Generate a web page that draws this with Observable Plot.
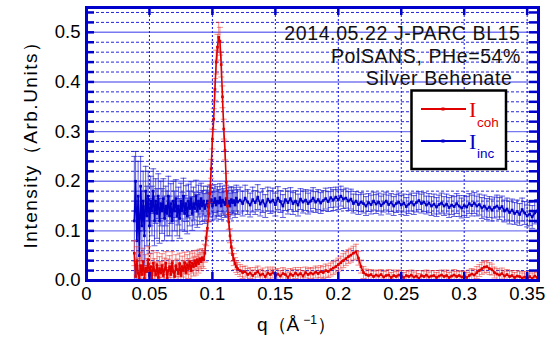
<!DOCTYPE html>
<html><head><meta charset="utf-8">
<script src="https://cdn.jsdelivr.net/npm/d3@7"></script>
<script src="https://cdn.jsdelivr.net/npm/@observablehq/plot@0.6"></script>
<style>body{margin:0;background:#fff;} #chart{width:560px;height:340px;}</style>
</head><body><div id="chart"></div>
<script>
// ---- data (q in 1/Å) ----
const qLow = [0.038,0.039,0.040,0.041,0.042,0.043,0.044,0.045,0.046,0.047,0.048,0.049,0.050,0.051,0.052,0.053,0.054,0.055,0.056,0.057,0.058,0.059,0.060,0.061,0.062,0.063,0.064,0.065,0.066,0.067,0.068,0.069,0.070,0.071,0.072,0.073,0.074,0.075,0.076,0.077,0.078,0.079,0.080,0.081,0.082,0.083,0.084,0.085,0.086,0.087,0.088,0.089,0.090,0.091,0.092,0.093,0.094];
const qPeak = [0.095,0.096,0.097,0.098,0.099,0.100,0.101,0.102,0.103,0.104,0.105,0.106,0.107,0.108,0.109,0.110,0.111,0.112,0.113,0.114,0.115,0.116,0.117,0.118,0.119,0.120];
const qHigh = [0.122,0.124,0.126,0.128,0.130,0.132,0.134,0.136,0.138,0.140,
0.142,0.144,0.146,0.148,0.150,0.152,0.154,0.156,0.158,0.160,
0.162,0.164,0.166,0.168,0.170,0.172,0.174,0.176,0.178,0.180,
0.182,0.184,0.186,0.188,0.190,0.192,0.194,0.196,0.198,0.200,
0.202,0.204,0.206,0.208,0.210,0.212,0.214,0.216,0.218,0.220,
0.222,0.224,0.226,0.228,0.230,0.232,0.234,0.236,0.238,0.240,
0.242,0.244,0.246,0.248,0.250,0.252,0.254,0.256,0.258,0.260,
0.262,0.264,0.266,0.268,0.270,0.272,0.274,0.276,0.278,0.280,
0.282,0.284,0.286,0.288,0.290,0.292,0.294,0.296,0.298,0.300,
0.302,0.304,0.306,0.308,0.310,0.312,0.314,0.316,0.318,0.320,
0.322,0.324,0.326,0.328,0.330,0.332,0.334,0.336,0.338,0.340,
0.342,0.344,0.346,0.348,0.350,0.352,0.354,0.356,0.358];

const cohLow = [0.055,0.008,0.040,0.015,0.002,0.030,0.012,0.038,0.004,0.025,0.018,0.042,0.010,0.028,0.003,0.035,0.020,0.012,0.032,0.006,0.024,0.015,0.030,0.010,0.022,0.035,0.004,0.020,0.028,0.012,0.036,0.018,0.008,0.030,0.022,0.014,0.034,0.010,0.028,0.020,0.036,0.016,0.032,0.024,0.038,0.020,0.035,0.028,0.040,0.030,0.042,0.034,0.044,0.038,0.046,0.042,0.055];
const cohLowErr = [0.025,0.030,0.028,0.030,0.028,0.027,0.028,0.027,0.026,0.027,0.026,0.026,0.025,0.026,0.025,0.025,0.024,0.025,0.024,0.024,0.024,0.023,0.024,0.023,0.023,0.023,0.022,0.023,0.022,0.022,0.022,0.022,0.021,0.022,0.021,0.021,0.021,0.021,0.021,0.020,0.021,0.020,0.020,0.020,0.020,0.020,0.020,0.019,0.020,0.019,0.019,0.019,0.019,0.018,0.018,0.018,0.018];
const cohPeak = [0.085,0.105,0.135,0.175,0.225,0.285,0.325,0.385,0.440,0.470,0.490,0.482,0.435,0.370,0.305,0.262,0.198,0.150,0.118,0.090,0.068,0.052,0.042,0.034,0.028,0.024];
const cohPeakErr = [0.015,0.016,0.017,0.018,0.019,0.020,0.021,0.022,0.024,0.026,0.030,0.028,0.025,0.022,0.020,0.019,0.018,0.016,0.015,0.014,0.013,0.013,0.012,0.012,0.012,0.012];
const cohHigh = [0.020,0.016,0.018,0.012,0.015,0.010,0.014,0.018,0.011,0.013,
0.008,0.015,0.012,0.016,0.010,0.013,0.009,0.014,0.012,0.006,
0.013,0.010,0.015,0.011,0.014,0.009,0.016,0.012,0.015,0.013,
0.017,0.014,0.018,0.016,0.020,0.018,0.022,0.025,0.028,0.032,
0.036,0.040,0.044,0.048,0.051,0.055,0.058,0.045,0.028,0.016,
0.012,0.010,0.012,0.008,0.011,0.009,0.012,0.007,0.010,0.011,
0.006,0.010,0.008,0.011,0.009,0.006,0.010,0.008,0.011,0.007,
0.009,0.004,0.010,0.008,0.011,0.007,0.009,0.010,0.006,0.009,
0.011,0.008,0.010,0.006,0.009,0.011,0.008,0.010,0.007,0.009,
0.006,0.010,0.013,0.011,0.016,0.020,0.024,0.027,0.028,0.024,
0.022,0.016,0.013,0.011,0.014,0.009,0.012,0.008,0.010,0.006,
0.009,0.008,0.005,0.007,0.003,0.008,0.004,0.009,0.006];
const cohHighErr = [0.012,0.012,0.011,0.012,0.011,0.011,0.012,0.011,0.011,0.012,
0.011,0.012,0.011,0.011,0.012,0.011,0.011,0.012,0.011,0.011,
0.011,0.012,0.011,0.011,0.012,0.011,0.011,0.012,0.011,0.012,
0.012,0.012,0.012,0.012,0.013,0.012,0.013,0.013,0.013,0.013,
0.013,0.014,0.014,0.014,0.014,0.014,0.015,0.014,0.013,0.012,
0.011,0.011,0.010,0.011,0.010,0.011,0.010,0.011,0.010,0.011,
0.010,0.011,0.010,0.010,0.011,0.010,0.010,0.011,0.010,0.010,
0.011,0.010,0.010,0.011,0.010,0.010,0.011,0.010,0.010,0.011,
0.010,0.010,0.011,0.010,0.010,0.011,0.010,0.010,0.011,0.010,
0.010,0.011,0.011,0.011,0.012,0.012,0.012,0.012,0.012,0.012,
0.011,0.011,0.011,0.010,0.011,0.010,0.010,0.011,0.010,0.010,
0.011,0.010,0.010,0.011,0.010,0.010,0.011,0.010,0.010];

const incLow = [0.120,0.200,0.080,0.170,0.050,0.190,0.110,0.160,0.090,0.180,0.130,0.170,0.110,0.160,0.140,0.180,0.120,0.160,0.135,0.170,0.120,0.155,0.140,0.165,0.125,0.150,0.135,0.170,0.130,0.155,0.120,0.160,0.140,0.165,0.130,0.150,0.125,0.160,0.140,0.170,0.135,0.155,0.130,0.160,0.145,0.165,0.135,0.155,0.145,0.170,0.140,0.160,0.145,0.165,0.150,0.160,0.145];
const incLowErr = [0.130,0.060,0.080,0.070,0.050,0.060,0.070,0.060,0.060,0.050,0.060,0.050,0.055,0.050,0.050,0.045,0.050,0.045,0.050,0.045,0.045,0.045,0.045,0.040,0.045,0.040,0.045,0.040,0.040,0.040,0.040,0.040,0.040,0.038,0.040,0.038,0.040,0.036,0.038,0.036,0.036,0.036,0.036,0.034,0.035,0.034,0.034,0.033,0.033,0.032,0.033,0.032,0.032,0.031,0.031,0.030,0.030];
const incPeak = [0.152,0.160,0.148,0.158,0.163,0.150,0.157,0.165,0.152,0.160,0.156,0.167,0.150,0.162,0.158,0.153,0.165,0.155,0.160,0.150,0.163,0.157,0.161,0.152,0.166,0.158];
const incPeakErr = [0.030,0.030,0.029,0.030,0.029,0.028,0.029,0.028,0.028,0.029,0.027,0.028,0.027,0.028,0.027,0.026,0.027,0.026,0.027,0.026,0.026,0.025,0.026,0.025,0.026,0.025];
const incHigh = [0.162,0.155,0.166,0.158,0.152,0.163,0.157,0.168,0.154,0.161,
0.150,0.164,0.158,0.162,0.153,0.166,0.159,0.150,0.163,0.157,
0.165,0.155,0.160,0.152,0.164,0.158,0.162,0.155,0.160,0.166,
0.158,0.163,0.156,0.161,0.165,0.159,0.167,0.162,0.168,0.163,
0.170,0.164,0.166,0.160,0.164,0.155,0.160,0.153,0.158,0.155,
0.150,0.157,0.153,0.160,0.154,0.158,0.151,0.156,0.160,0.153,
0.157,0.150,0.155,0.158,0.152,0.156,0.149,0.154,0.158,0.152,
0.157,0.161,0.155,0.158,0.152,0.156,0.150,0.154,0.148,0.153,
0.156,0.150,0.154,0.147,0.152,0.149,0.155,0.150,0.146,0.151,
0.148,0.155,0.151,0.156,0.150,0.153,0.146,0.150,0.144,0.148,
0.142,0.147,0.150,0.145,0.149,0.140,0.144,0.137,0.142,0.135,
0.139,0.133,0.143,0.136,0.130,0.134,0.128,0.136,0.140];
const incHighErr = [0.026,0.025,0.026,0.025,0.024,0.025,0.024,0.025,0.024,0.024,
0.023,0.024,0.023,0.024,0.023,0.023,0.022,0.023,0.022,0.023,
0.022,0.022,0.021,0.022,0.021,0.022,0.021,0.021,0.022,0.021,
0.021,0.020,0.021,0.020,0.021,0.020,0.020,0.021,0.020,0.020,
0.020,0.019,0.020,0.019,0.020,0.019,0.019,0.020,0.019,0.019,
0.019,0.018,0.019,0.018,0.019,0.018,0.019,0.018,0.018,0.019,
0.018,0.019,0.018,0.018,0.019,0.018,0.018,0.019,0.018,0.019,
0.019,0.018,0.019,0.019,0.018,0.019,0.019,0.020,0.019,0.019,
0.020,0.019,0.020,0.020,0.019,0.020,0.020,0.021,0.020,0.020,
0.021,0.020,0.021,0.021,0.020,0.021,0.021,0.022,0.021,0.021,
0.022,0.021,0.022,0.022,0.021,0.022,0.022,0.023,0.022,0.022,
0.023,0.022,0.023,0.023,0.022,0.023,0.023,0.022,0.023];

const xTicks = [0,0.05,0.1,0.15,0.2,0.25,0.3,0.35];
const yMajor = [0,0.1,0.2,0.3,0.4,0.5];
const yAllTicks = [0.02,0.04,0.06,0.08,0.1,0.12,0.14,0.16,0.18,0.2,0.22,0.24,0.26,0.28,0.3,0.32,0.34,0.36,0.38,0.4,0.42,0.44,0.46,0.48,0.5,0.52,0.54];
const titleLines = ["2014.05.22 J-PARC BL15","PolSANS, PHe=54%","Silver Behenate"];
const seriesNames = ["coh","inc"];

// ---- build ----
const qAll = qLow.concat(qPeak, qHigh);
const mk = (vs, es) => qAll.map((q,i) => ({q, v: vs[i], e: es[i]}));
const cohData = mk(cohLow.concat(cohPeak, cohHigh), cohLowErr.concat(cohPeakErr, cohHighErr));
const incData = mk(incLow.concat(incPeak, incHigh), incLowErr.concat(incPeakErr, incHighErr));
const yMinor = yAllTicks.filter(v => !yMajor.includes(v));

const W = 560, H = 340, mL = 86, mR = 22, mT = 7, mB = 60;
const plotW = W - mL - mR, plotH = H - mT - mB;
const FAM = "'Liberation Sans', Arial, sans-serif";
const frameColor = "#0000cc";
const red = "#e00000", blue = "#0000c8";
const capSym = {draw(ctx){ ctx.moveTo(-3,0); ctx.lineTo(3,0); }};

function series(data, lineColor, barColor, op) {
  return [
    Plot.ruleX(data, {x: "q", y1: d => d.v - d.e, y2: d => d.v + d.e, stroke: barColor, strokeOpacity: op, strokeWidth: 1, clip: true}),
    Plot.dot(data, {x: "q", y: d => d.v + d.e, symbol: capSym, stroke: barColor, strokeOpacity: op, fill: "none", strokeWidth: 1, clip: true}),
    Plot.dot(data, {x: "q", y: d => d.v - d.e, symbol: capSym, stroke: barColor, strokeOpacity: op, fill: "none", strokeWidth: 1, clip: true}),
    Plot.line(data, {x: "q", y: "v", stroke: lineColor, strokeWidth: 1.6, clip: true}),
    Plot.dot(data, {x: "q", y: "v", symbol: "square", r: 1.5, fill: lineColor, stroke: "none", clip: true})
  ];
}

const svg = Plot.plot({
  width: W, height: H,
  marginLeft: mL, marginRight: mR, marginTop: mT, marginBottom: mB,
  style: {fontFamily: FAM, fontSize: "18.5px", color: "black", background: "white"},
  x: {domain: [0, 0.359], ticks: xTicks, tickSize: 0, tickPadding: 6, tickFormat: d => String(d), label: null},
  y: {domain: [0, 0.55], ticks: yMajor, tickSize: 0, tickPadding: 6, tickFormat: d => d.toFixed(1), label: null},
  marks: [
    Plot.ruleY(yMinor, {y: d => d, stroke: "#2424dc", strokeDasharray: "3,2", strokeWidth: 1}),
    Plot.ruleY(yMajor.slice(1), {y: d => d, stroke: "#7878f2", strokeOpacity: 1, strokeWidth: 1.4}),
    Plot.ruleX(xTicks.slice(1), {x: d => d, stroke: "#1414e6", strokeDasharray: "2,2", strokeWidth: 1}),
    ...series(incData, blue, "#1a1ad0", 0.7),
    ...series(cohData, red, "#e83030", 0.55),
    Plot.tickY(yAllTicks, {y: d => d, stroke: frameColor, strokeWidth: 2.5, insetRight: plotW - 8}),
    Plot.tickY(yAllTicks, {y: d => d, stroke: frameColor, strokeWidth: 2.5, insetLeft: plotW - 9}),
    Plot.tickX(xTicks.slice(1), {x: d => d, stroke: frameColor, strokeWidth: 2.5, insetTop: plotH - 8}),
    Plot.tickX(xTicks.slice(1), {x: d => d, stroke: frameColor, strokeWidth: 2.5, insetBottom: plotH - 8}),
    Plot.frame({stroke: frameColor, strokeWidth: 3}),
    Plot.text([titleLines[0]], {text: d => d, frameAnchor: "top-right", textAnchor: "end", dx: -18, dy: 19, fontSize: 19.5, fill: "#111"}),
    Plot.text([titleLines[1]], {text: d => d, frameAnchor: "top-right", textAnchor: "end", dx: -17.5, dy: 42, fontSize: 19.5, fill: "#111"}),
    Plot.text([titleLines[2]], {text: d => d, frameAnchor: "top-right", textAnchor: "end", dx: -26, dy: 64, fontSize: 19.5, fill: "#111"})
  ]
});
document.getElementById("chart").appendChild(svg);

const s = d3.select(svg);
s.selectAll("g[aria-label='text'] text").style("letter-spacing", "0.6px");

// legend
const lg = s.append("g").attr("text-anchor", "start");
lg.append("rect").attr("x", 411.5).attr("y", 90.5).attr("width", 94.5).attr("height", 78.5)
  .attr("fill", "white").attr("stroke", "black").attr("stroke-width", 2.5);
[[red, 109, 117.3, 127.3], [blue, 141, 149.3, 158.3]].forEach(([c, ly, ib, sb], i) => {
  lg.append("line").attr("x1", 421).attr("x2", 466).attr("y1", ly).attr("y2", ly).attr("stroke", c).attr("stroke-width", 1.8);
  lg.append("rect").attr("x", 441.5).attr("y", ly - 1.5).attr("width", 3).attr("height", 3).attr("fill", c);
  lg.append("text").attr("x", 469).attr("y", ib).attr("fill", c).attr("text-anchor", "start")
    .attr("font-family", "'Liberation Serif', 'Times New Roman', serif").attr("font-size", 22).text("I");
  lg.append("text").attr("x", 477).attr("y", sb).attr("fill", c).attr("text-anchor", "start")
    .attr("font-family", FAM).attr("font-size", 13.5).text(seriesNames[i]);
});

// axis labels
const xl = s.append("text").attr("x", 257).attr("y", 331).attr("text-anchor", "start")
  .attr("font-family", FAM).attr("font-size", 19).attr("fill", "black");
xl.append("tspan").text("q（Å");
xl.append("tspan").attr("dx", 4).attr("dy", -7).attr("font-size", 12).text("−1");
xl.append("tspan").attr("dy", 7).text("）");

s.append("text").attr("transform", "translate(37,140) rotate(-90)").attr("text-anchor", "middle")
  .attr("font-family", FAM).attr("font-size", 19).attr("fill", "black").style("letter-spacing", "1.5px")
  .text("Intensity（Arb.Units）");
</script></body></html>
